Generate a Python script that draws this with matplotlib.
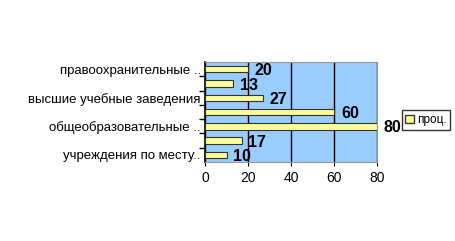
import matplotlib.pyplot as plt
from matplotlib.patches import Patch

plt.rcParams['font.family'] = ['Liberation Sans', 'DejaVu Sans']

# bottom to top
labels = ['учреждения по месту..', '', 'общеобразовательные ..', '',
          'высшие учебные заведения', '', 'правоохранительные ..']
values = [10, 17, 80, 60, 27, 13, 20]
xticks = [0, 20, 40, 60, 80]

fig = plt.figure(figsize=(4.55, 2.41), dpi=100)
ax = fig.add_axes([205/455, 1-162/241, 172/455, 100/241])
ax.set_facecolor('#99CCFF')

pos = list(range(len(values)))
ax.barh(pos, values, height=0.45, color='#FFFF99', edgecolor='#333333', linewidth=0.8, zorder=3)
for p, v in zip(pos, values):
    ax.text(v + 3.2, p - 0.12, str(v), fontsize=11.5, fontweight='bold', va='center', ha='left',
            color='black', zorder=4, clip_on=False)

ax.set_xlim(0, 80)
ax.set_ylim(-0.5, len(values) - 0.5)
ax.set_xticks(xticks)
ax.set_yticks(pos)
ax.set_yticklabels(labels, fontsize=9.5)
ax.set_yticks([p + 0.5 for p in pos[:-1]], minor=True)
ax.tick_params(axis='y', which='major', length=0, pad=3)
ax.tick_params(axis='y', which='minor', length=4, width=1)
ax.tick_params(axis='x', labelsize=10, length=3)
ax.xaxis.grid(True, color='black', linewidth=1, zorder=1)
for s in ['top', 'right']:
    ax.spines[s].set_color('#999999')
ax.spines['bottom'].set_color('#999999')
ax.spines['left'].set_color('black')
ax.spines['left'].set_linewidth(1.2)

fig.legend(handles=[Patch(facecolor='#FFFF99', edgecolor='#333333', label='проц.')],
           loc='center left', bbox_to_anchor=(396/455, 1-120/241), fontsize=8.5,
           frameon=True, fancybox=False, edgecolor='black', handlelength=0.7,
           handleheight=0.7, handletextpad=0.3, borderpad=0.3)

fig.savefig('out.png', dpi=100)
